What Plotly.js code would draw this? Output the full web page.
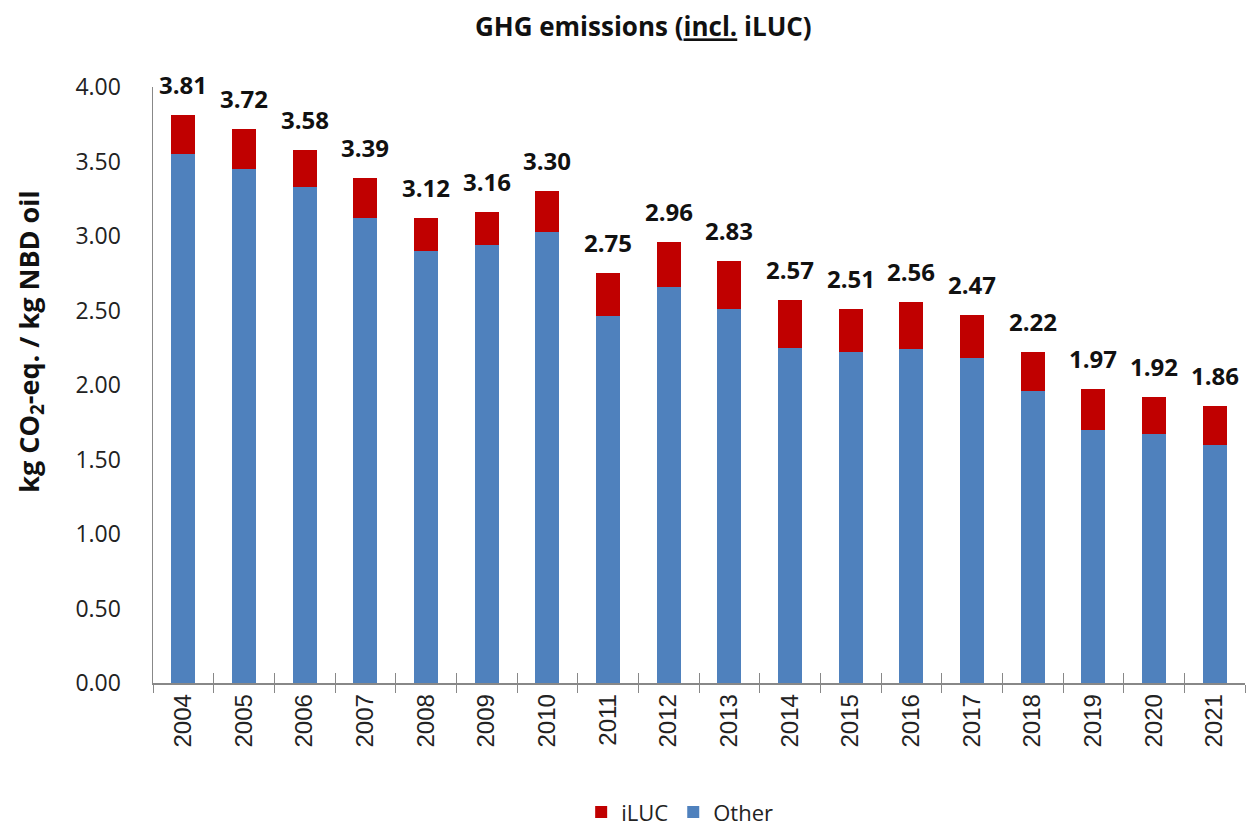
<!DOCTYPE html>
<html>
<head>
<meta charset="utf-8">
<script src="https://cdn.plot.ly/plotly-3.0.1.min.js"></script>
<style>html,body{margin:0;padding:0;background:#fff;}#chart{width:1254px;height:827px;}</style>
</head>
<body>
<div id="chart"></div>
<script>
const years = ['2004','2005','2006','2007','2008','2009','2010','2011','2012','2013','2014','2015','2016','2017','2018','2019','2020','2021'];
const other = [3.55, 3.45, 3.33, 3.12, 2.90, 2.94, 3.03, 2.46, 2.66, 2.51, 2.25, 2.22, 2.24, 2.18, 1.96, 1.70, 1.67, 1.60];
const iluc  = [0.26, 0.27, 0.25, 0.27, 0.22, 0.22, 0.27, 0.29, 0.30, 0.32, 0.32, 0.29, 0.32, 0.29, 0.26, 0.27, 0.25, 0.26];
const totals = [3.81, 3.72, 3.58, 3.39, 3.12, 3.16, 3.30, 2.75, 2.96, 2.83, 2.57, 2.51, 2.56, 2.47, 2.22, 1.97, 1.92, 1.86];
const yTicks = [0, 0.5, 1, 1.5, 2, 2.5, 3, 3.5, 4];

const FONT = 'Open Sans, Lato, sans-serif';
const xRange = [-0.5, years.length - 0.5];
const data = [
  {type:'bar', name:'Other', x:years, y:other, marker:{color:'#4F81BD'}},
  {type:'bar', name:'iLUC', x:years, y:iluc, marker:{color:'#C00000'}},
  {type:'scatter', mode:'markers', x:years, y:totals, xaxis:'x2', marker:{opacity:0}, showlegend:false, hoverinfo:'skip'}
];
const annotations = years.map((yr,i)=>({
  x: i, y: totals[i], xref:'x', yref:'y', text:'<b>'+totals[i].toFixed(2)+'</b>',
  showarrow:false, yanchor:'bottom', yshift:12,
  font:{family:FONT, size:24, color:'#111'}
}));
annotations.push({
  text:'<b>kg CO<sub>2</sub>-eq. / kg NBD oil</b>', textangle:-90, showarrow:false,
  xref:'paper', yref:'paper', x:-0.113, y:0.572, xanchor:'center', yanchor:'middle',
  font:{family:FONT, size:27, color:'#111'}
});
const layout = {
  width:1254, height:827,
  margin:{l:153, r:9, t:87, b:144},
  paper_bgcolor:'#fff', plot_bgcolor:'#fff',
  barmode:'stack', bargap:0.6,
  title:{text:'<b>GHG emissions (<u>incl.</u> iLUC)</b>', x:0.513, xref:'container', xanchor:'center', y:0.967, yref:'container', yanchor:'middle', font:{family:FONT, size:26, color:'#111'}},
  xaxis:{type:'category', categoryorder:'array', categoryarray:years, range:xRange, tickangle:-90, tickson:'boundaries', ticks:'outside', ticklen:8, tickcolor:'#888', showline:true, linecolor:'#888', linewidth:1.5, showgrid:false,
         tickfont:{family:'Liberation Sans, Arial, sans-serif', size:24, color:'#222'}},
  xaxis2:{type:'category', categoryorder:'array', categoryarray:years, range:xRange, overlaying:'x', side:'bottom', anchor:'y', tickson:'boundaries', ticks:'inside', ticklen:10, tickcolor:'#888', showticklabels:false, showline:false, showgrid:false, zeroline:false},
  yaxis:{range:[0,4], tickvals:yTicks, ticktext:yTicks.map(v=>v.toFixed(2)), showline:true, linecolor:'#888', linewidth:1.5, showgrid:false, zeroline:false, ticks:'', ticklabelstandoff:26,
         tickfont:{family:FONT, size:23, color:'#222'}},
  legend:{orientation:'h', x:0.542, xref:'container', xanchor:'center', y:0.018, yref:'container', yanchor:'middle', font:{family:FONT, size:22, color:'#222'}, traceorder:'reversed'},
  annotations: annotations,
  showlegend:true
};
Plotly.newPlot('chart', data, layout, {displayModeBar:false, staticPlot:true});
</script>
</body>
</html>
